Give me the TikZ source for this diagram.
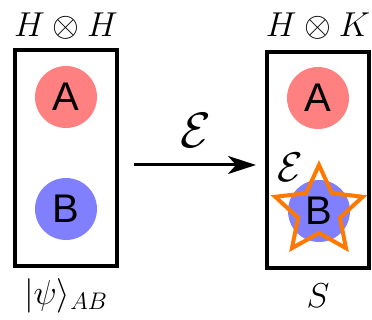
\documentclass[tikz,border=0pt]{standalone}
\usepackage{fontspec}
\newfontfamily\qfont{Liberation Sans}
\usetikzlibrary{arrows.meta}
\tikzset{
  system/.style={draw, line width=2pt, minimum width=51pt, minimum height=108pt, inner sep=0pt},
  partA/.style={circle, fill=red!50, minimum size=31pt, inner sep=0pt, font=\qfont\fontsize{20}{22}\selectfont},
  partB/.style={circle, fill=blue!50, minimum size=31pt, inner sep=0pt, font=\qfont\fontsize{20}{22}\selectfont},
  channel/.style={line width=1.5pt, -{Stealth[length=14pt,width=9pt,inset=4pt]}},
  noise/.style={draw=orange!95!red, line width=2pt},
  lbl/.style={font=\fontsize{18}{20}\selectfont},
}
\begin{document}
\begin{tikzpicture}[x=0.5pt,y=-0.5pt]
        \useasboundingbox (0,0) rectangle (372,320);
        % input state
        \node[system] (left) at (66,158.5) {};
        \node[partA] (la) at (66,97) {A};
        \node[partB] (lb) at (66,209) {B};
        \node[lbl] (lspace) at (66,26) {$H\otimes H$};
        \node[lbl] (lstate) at (66,296) {$|\psi\rangle_{AB}$};

        % output state
        \node[system] (right) at (318.5,160.5) {};
        \node[partA] (ra) at (318,98) {A};
        \node[partB] (rb) at (319,211) {B};
        % star around B (outer 46, inner 22)
        \coordinate (kick) at (319,211);
        \draw[noise,shift={(kick)}] (270:46)
          \foreach \k in {0,...,3}{ -- (306+72*\k:22) -- (342+72*\k:46) }
          -- (594:22) -- cycle;
        \node[lbl,font=\fontsize{21}{24}\selectfont] (ekick) at (290,167) {$\mathcal{E}$};
        \node[lbl] (rspace) at (318,26) {$H\otimes K$};
        \node[lbl] (rstate) at (318,296) {$S$};

        % the channel
        \coordinate (from) at (134,165);
        \coordinate (to) at (256,165);
        \draw[channel] (from) -- (to);
        \node[lbl,font=\fontsize{27}{30}\selectfont] (emap) at (196,131) {$\mathcal{E}$};
\end{tikzpicture}
\end{document}
